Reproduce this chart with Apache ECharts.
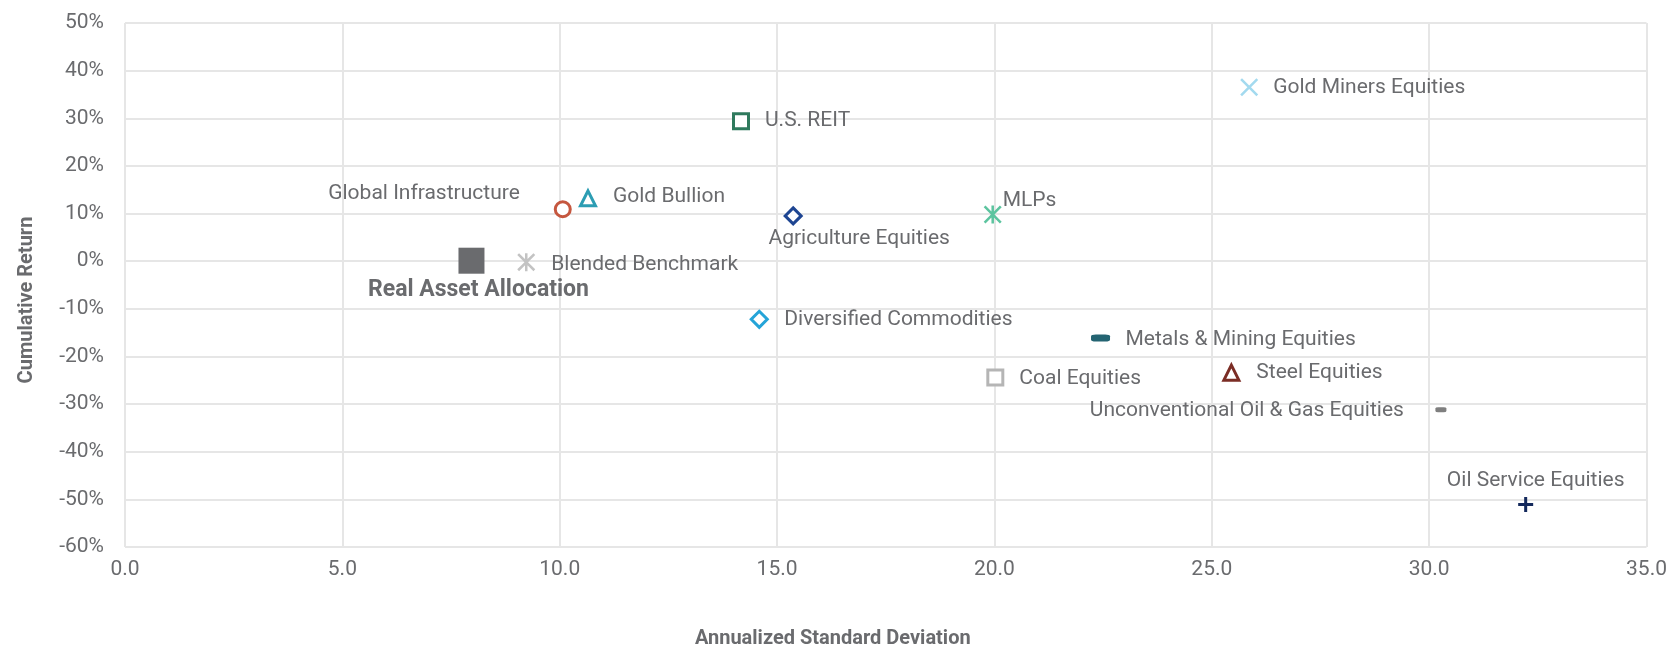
<!DOCTYPE html>
<html>
<head>
<meta charset="utf-8">
<script src="https://cdn.jsdelivr.net/npm/echarts@6/dist/echarts.min.js"></script>
<style>
  html, body { margin: 0; padding: 0; background: #fff; }
  #chart { width: 1670px; height: 654px; }
</style>
</head>
<body>
<div id="chart"></div>
<script>
// values
const assetNames = [
  'Real Asset Allocation', 'Blended Benchmark', 'Global Infrastructure', 'Gold Bullion',
  'U.S. REIT', 'Agriculture Equities', 'MLPs', 'Gold Miners Equities',
  'Diversified Commodities', 'Metals & Mining Equities', 'Coal Equities', 'Steel Equities',
  'Unconventional Oil & Gas Equities', 'Oil Service Equities'
];
const annualStdDev = [7.97, 9.23, 10.07, 10.65, 14.17, 15.37, 19.96, 25.86, 14.59, 22.44, 20.02, 25.45, 30.27, 32.22];
const cumReturn    = [0.1, -0.2, 10.9, 13.2, 29.4, 9.5, 9.8, 36.5, -12.2, -16.1, -24.4, -23.4, -31.2, -51.1];

const xTicks = { min: 0, max: 35, step: 5 };
const yTicks = { min: -60, max: 50, step: 10 };

const FONT = "Roboto, 'Liberation Sans', sans-serif";
const TXT = '#6a6b6e';

// marker shapes (filled polygons so strokes scale with symbolSize)
const P_X = 'path://M0,1L1,0L5,4L9,0L10,1L6,5L10,9L9,10L5,6L1,10L0,9L4,5Z';
const P_AST = 'path://M0,1L1,0L5,4L9,0L10,1L6,5L10,9L9,10L5,6L1,10L0,9L4,5Z M4.3,0L5.7,0L5.7,10L4.3,10Z';
const P_PLUS = 'path://M4,0L6,0L6,4L10,4L10,6L6,6L6,10L4,10L4,6L0,6L0,4L4,4Z';

// scatter defaults to 0.8 opacity, the reference marks are solid
const outline = (c) => ({ color: '#fff', borderColor: c, borderWidth: 3, opacity: 1 });
const solid = (c) => ({ color: c, borderWidth: 0, opacity: 1 });

// per-point marker + label placement
const looks = {
  'Real Asset Allocation':   { symbol: 'rect', size: 26, item: solid('#6a6b6e'), align: 'center', off: [7, 30], big: true },
  'Blended Benchmark':       { symbol: P_AST, size: 18, item: solid('#c3c3c3'), align: 'left', off: [25, 3] },
  'Global Infrastructure':   { symbol: 'circle', size: 15, item: outline('#c5573f'), align: 'right', off: [-43, -16] },
  'Gold Bullion':            { symbol: 'triangle', size: 15, item: outline('#2c9db3'), align: 'left', off: [25, -2] },
  'U.S. REIT':               { symbol: 'rect', size: 15, item: outline('#2f7a5d'), align: 'left', off: [24, 0] },
  'Agriculture Equities':    { symbol: 'diamond', size: 16, item: outline('#1e4592'), align: 'center', off: [66, 23] },
  'MLPs':                    { symbol: P_AST, size: 18, item: solid('#5cc49f'), align: 'left', off: [10, -14] },
  'Gold Miners Equities':    { symbol: P_X, size: 18, item: solid('#a3daef'), align: 'left', off: [24, 0] },
  'Diversified Commodities': { symbol: 'diamond', size: 16, item: outline('#25a4d8'), align: 'left', off: [25, 0] },
  'Metals & Mining Equities':{ symbol: 'roundRect', size: [19, 7], item: solid('#246472'), align: 'left', off: [25, 2] },
  'Coal Equities':           { symbol: 'rect', size: 15, item: outline('#b5b5b5'), align: 'left', off: [24, 1] },
  'Steel Equities':          { symbol: 'triangle', size: 15, item: outline('#7b2d25'), align: 'left', off: [25, 0] },
  'Unconventional Oil & Gas Equities': { symbol: 'roundRect', size: [11, 5], item: solid('#7f7f7f'), align: 'right', off: [-37, 1] },
  'Oil Service Equities':    { symbol: P_PLUS, size: 15, item: solid('#14295c'), align: 'center', off: [10, -24] }
};

const points = assetNames.map((name, i) => {
  const lk = looks[name];
  return {
    name,
    value: [annualStdDev[i], cumReturn[i]],
    symbol: lk.symbol,
    symbolSize: lk.size,
    itemStyle: lk.item,
    label: {
      show: true,
      formatter: name,
      position: 'inside',
      align: lk.align,
      verticalAlign: 'middle',
      offset: lk.off,
      color: TXT,
      fontFamily: FONT,
      fontSize: lk.big ? 23 : 21,
      fontWeight: lk.big ? 'bold' : 'normal'
    }
  };
});

const chart = echarts.init(document.getElementById('chart'), null, { renderer: 'canvas' });
chart.setOption({
  backgroundColor: '#fff',
  animation: false,
  grid: { left: 125, right: 21, top: 23, bottom: 103 },
  xAxis: {
    type: 'value',
    min: xTicks.min, max: xTicks.max, interval: xTicks.step,
    name: 'Annualized Standard Deviation',
    nameLocation: 'middle',
    nameGap: 82,
    nameTextStyle: { color: TXT, fontFamily: FONT, fontSize: 20, fontWeight: 'bold', padding: [0, 106, 0, 0] },
    axisLine: { show: false },
    axisTick: { show: false },
    axisLabel: { color: TXT, fontFamily: FONT, fontSize: 21, margin: 12, formatter: v => v.toFixed(1) },
    splitLine: { show: true, lineStyle: { color: '#e6e6e6', width: 2 } }
  },
  yAxis: {
    type: 'value',
    min: yTicks.min, max: yTicks.max, interval: yTicks.step,
    name: 'Cumulative Return',
    nameLocation: 'middle',
    nameGap: 88,
    nameTextStyle: { color: TXT, fontFamily: FONT, fontSize: 20, fontWeight: 'bold', padding: [0, 30, 0, 0] },
    axisLine: { show: false },
    axisTick: { show: false },
    axisLabel: { color: TXT, fontFamily: FONT, fontSize: 21, margin: 21, formatter: '{value}%' },
    splitLine: { show: true, lineStyle: { color: '#e6e6e6', width: 2 } }
  },
  series: [{
    type: 'scatter',
    data: points,
    emphasis: { disabled: true }
  }]
});
</script>
</body>
</html>
